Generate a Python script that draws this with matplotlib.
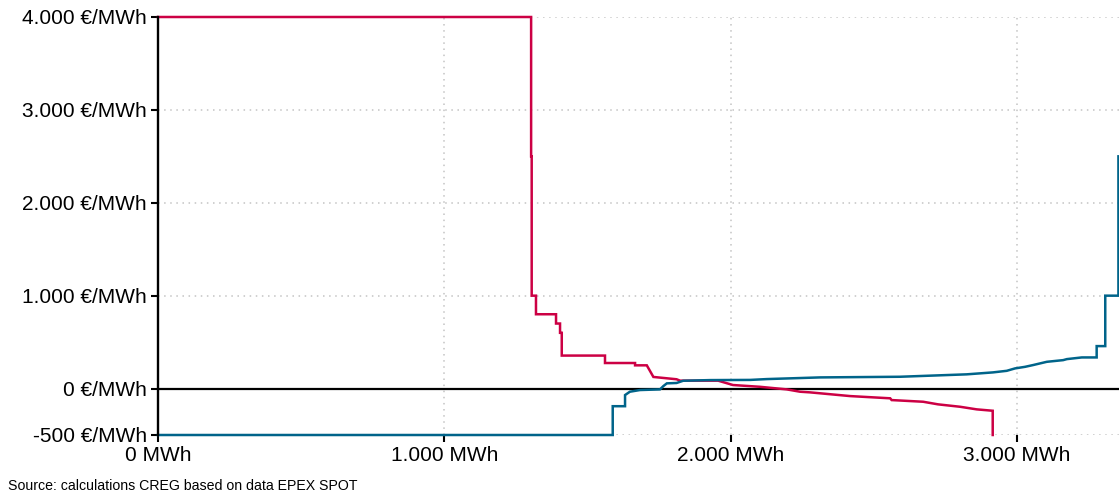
import matplotlib
matplotlib.use("Agg")
import matplotlib.pyplot as plt
from matplotlib.ticker import FixedLocator

plt.rcParams['font.family'] = ['Liberation Sans', 'DejaVu Sans']

# Aggregated demand curve (volume MWh, price €/MWh), drawn as a stepped polyline
demand_volume = [0, 1303, 1303, 1305, 1305, 1320, 1320, 1390, 1390, 1404, 1404, 1410,
                 1410, 1561, 1561, 1666, 1666, 1707, 1730, 1811, 1823, 1956, 2008,
                 2102, 2196, 2242, 2277, 2417, 2557, 2562, 2672, 2724, 2801, 2859,
                 2915, 2915]
demand_price = [4000, 4000, 2500, 2500, 1000, 1000, 800, 800, 700, 700, 600, 600,
                355, 355, 275, 275, 250, 250, 125, 100, 85, 85, 38,
                19, -9, -34, -41, -81, -105, -124, -142, -170, -196, -224,
                -239, -500]

# Aggregated supply curve (volume MWh, price €/MWh)
supply_volume = [0, 1588, 1588, 1631, 1631, 1648, 1683, 1753, 1765, 1777, 1811, 1834,
                 1928, 2068, 2126, 2312, 2591, 2824, 2916, 2964, 2993, 3028, 3056,
                 3104, 3161, 3174, 3226, 3278, 3278, 3308, 3308, 3354, 3354]
supply_price = [-500, -500, -190, -190, -70, -34, -16, -9, 27, 56, 60, 84,
                91, 93, 102, 120, 127, 153, 174, 191, 217, 234, 253,
                288, 306, 317, 335, 335, 457, 457, 1000, 1000, 2500]

price_ticks = [-500, 0, 1000, 2000, 3000, 4000]
price_labels = ['-500 €/MWh', '0 €/MWh', '1.000 €/MWh', '2.000 €/MWh',
                '3.000 €/MWh', '4.000 €/MWh']
volume_ticks = [0, 1000, 2000, 3000]
volume_labels = ['0 MWh', '1.000 MWh', '2.000 MWh', '3.000 MWh']

source_text = 'Source: calculations CREG based on data EPEX SPOT'

RED = '#CC0044'
BLUE = '#00648A'

fig = plt.figure(figsize=(11.19, 4.96), dpi=100)
ax = fig.add_axes([158 / 1119, 1 - 435 / 496, 1 - 158 / 1119, (435 - 17) / 496])

ax.plot(demand_volume, demand_price, color=RED, lw=1.8, zorder=3,
        solid_joinstyle='miter', clip_on=False)
ax.plot(supply_volume, supply_price, color=BLUE, lw=1.8, zorder=4,
        solid_joinstyle='miter', clip_on=False)
ax.axhline(0, color='black', lw=1.6, zorder=2)

ax.set_xlim(0, 3356)
ax.set_ylim(-500, 4000)

ax.yaxis.set_major_locator(FixedLocator(price_ticks))
ax.set_yticklabels(price_labels)
ax.xaxis.set_major_locator(FixedLocator(volume_ticks))
ax.set_xticklabels(volume_labels)

ax.tick_params(axis='both', direction='out', length=5, width=1.5, color='black',
               labelsize=15, labelcolor='black')
ax.tick_params(axis='y', pad=3)
ax.tick_params(axis='x', pad=3)

ax.grid(True, color='#C4C4C4', linestyle=(0, (1, 3)), lw=1.1, zorder=1)
for side in ('top', 'right', 'bottom'):
    ax.spines[side].set_visible(False)
ax.spines['left'].set_color('black')
ax.spines['left'].set_linewidth(1.7)
ax.spines['left'].set_zorder(5)

fig.text(8 / 1119, 1 - 486 / 496, source_text, fontsize=10.2, color='black',
         ha='left', va='center')

fig.savefig('out.png', dpi=100)
